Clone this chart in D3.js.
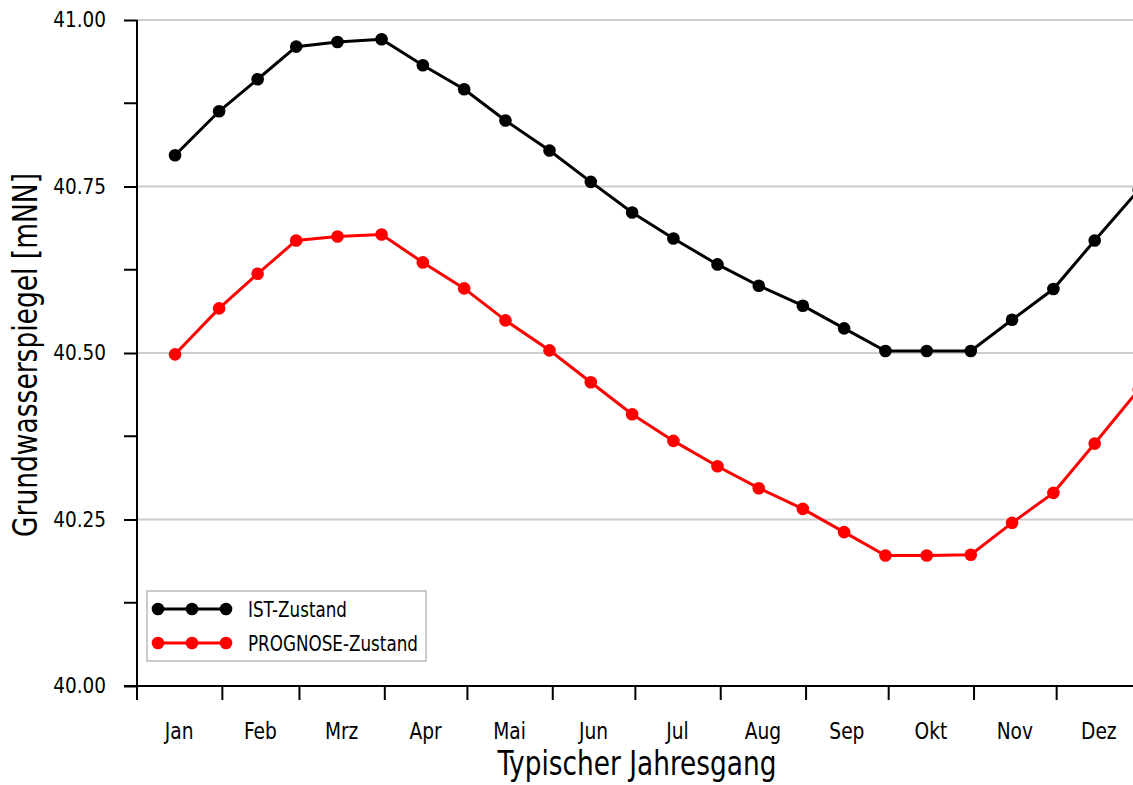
<!DOCTYPE html>
<html>
<head>
<meta charset="utf-8">
<script src="https://cdn.jsdelivr.net/npm/d3@7"></script>
<style>
  html, body { margin: 0; padding: 0; background: #fff; }
  svg { display: block; }
  text { font-family: "DejaVu Sans Condensed", "DejaVu Sans", sans-serif; font-stretch: condensed; fill: #000; }
</style>
</head>
<body>
<svg id="chart" width="1133" height="785"></svg>
<script>
// ---- data ----
const pointDates = ["01-15","01-31","02-14","02-28","03-15","03-31","04-15","04-30","05-15","05-31","06-15","06-30",
                    "07-15","07-31","08-15","08-31","09-15","09-30","10-15","10-31","11-15","11-30","12-15","12-31"];
const istValues = [40.797, 40.863, 40.911, 40.960, 40.967, 40.971, 40.932, 40.896, 40.849, 40.804, 40.757, 40.711,
                   40.672, 40.633, 40.601, 40.571, 40.537, 40.503, 40.503, 40.503, 40.550, 40.596, 40.669, 40.745];
const prognoseValues = [40.498, 40.567, 40.619, 40.669, 40.675, 40.678, 40.636, 40.597, 40.549, 40.504, 40.456, 40.408,
                        40.368, 40.330, 40.297, 40.266, 40.231, 40.196, 40.196, 40.197, 40.245, 40.290, 40.364, 40.445];
const monthLabels = ["Jan","Feb","Mrz","Apr","Mai","Jun","Jul","Aug","Sep","Okt","Nov","Dez"];
const yTickValues = [40.00, 40.25, 40.50, 40.75, 41.00];
const yMinorTickValues = [40.125, 40.375, 40.625, 40.875];
const seriesNames = ["IST-Zustand", "PROGNOSE-Zustand"];
const seriesColors = ["#000000", "#ff0000"];

// ---- scales ----
const year = 2021;
const parseDate = s => new Date(year, +s.slice(0,2) - 1, +s.slice(3,5));
const x = d3.scaleTime().domain([new Date(year,0,1), new Date(year+1,0,1)]).range([136.5, 1141.5]);
const y = d3.scaleLinear().domain([40, 41]).range([686, 20]);

const svg = d3.select("#chart");

// gridlines
svg.append("g").selectAll("line").data(yTickValues.filter(v => v > 40)).join("line")
  .attr("x1", 137).attr("x2", 1141).attr("y1", d => y(d)).attr("y2", d => y(d))
  .attr("stroke", "#cccccc").attr("stroke-width", 2);

// y axis
const yAxis = d3.axisLeft(y).tickValues(yTickValues).tickFormat(d3.format(".2f")).tickSize(13).tickPadding(18);
const gy = svg.append("g").attr("transform", "translate(137,0)").call(yAxis);
gy.attr("font-family", null).attr("font-size", null);
gy.select(".domain").attr("stroke-width", 2).attr("d", `M0,${y(41)}V${y(40)}`);
gy.selectAll(".tick line").attr("stroke-width", 2);
gy.selectAll(".tick text").attr("font-size", 20.5).attr("fill", "#000");
// minor y ticks
svg.append("g").selectAll("line").data(yMinorTickValues).join("line")
  .attr("x1", 124).attr("x2", 137).attr("y1", d => y(d)).attr("y2", d => y(d))
  .attr("stroke", "#000").attr("stroke-width", 2);

// x axis
const monthStarts = d3.range(0, 13).map(m => new Date(year, m, 1));
const xAxis = d3.axisBottom(x).tickValues(monthStarts).tickFormat("").tickSize(14);
const gx = svg.append("g").attr("transform", "translate(0,686)").call(xAxis);
gx.attr("font-family", null).attr("font-size", null);
gx.select(".domain").attr("stroke-width", 2).attr("d", "M124,0H1141");
gx.selectAll(".tick line").attr("stroke-width", 2);
// month labels centred in month
svg.append("g").selectAll("text").data(monthLabels).join("text")
  .attr("transform", (d, i) => `translate(${(x(new Date(year, i, 1)) + x(new Date(year, i + 1, 1))) / 2},739) scale(0.9,1)`)
  .attr("text-anchor", "middle").attr("font-size", 23)
  .text(d => d);

// axis titles
svg.append("text").attr("x", 637).attr("y", 775).attr("text-anchor", "middle").attr("font-size", 34)
  .attr("textLength", 279).attr("lengthAdjust", "spacingAndGlyphs")
  .text("Typischer Jahresgang");
svg.append("text").attr("transform", "translate(37,355) rotate(-90)").attr("text-anchor", "middle").attr("font-size", 33)
  .attr("textLength", 364).attr("lengthAdjust", "spacingAndGlyphs")
  .text("Grundwasserspiegel [mNN]");

// series
const series = [istValues, prognoseValues];
const line = d3.line().x(d => x(d.date)).y(d => y(d.value));
series.forEach((vals, si) => {
  const data = vals.map((v, i) => ({ date: parseDate(pointDates[i]), value: v }));
  svg.append("path").datum(data).attr("d", line).attr("fill", "none")
    .attr("stroke", seriesColors[si]).attr("stroke-width", 3);
  svg.append("g").selectAll("circle").data(data).join("circle")
    .attr("cx", d => x(d.date)).attr("cy", d => y(d.value)).attr("r", 6.3)
    .attr("fill", seriesColors[si]);
});

// legend
const legendTextWidths = [99, 170];
const lg = svg.append("g");
lg.append("rect").attr("x", 147).attr("y", 591).attr("width", 279).attr("height", 70)
  .attr("fill", "#fff").attr("stroke", "#bbbbbb").attr("stroke-width", 1.5);
seriesNames.forEach((name, i) => {
  const ly = 609 + i * 34;
  lg.append("line").attr("x1", 158).attr("x2", 226).attr("y1", ly).attr("y2", ly)
    .attr("stroke", seriesColors[i]).attr("stroke-width", 3);
  [158, 192, 226].forEach(cx => lg.append("circle").attr("cx", cx).attr("cy", ly).attr("r", 6.3).attr("fill", seriesColors[i]));
  lg.append("text").attr("x", 248).attr("y", ly + 7.5).attr("font-size", 21)
    .attr("textLength", legendTextWidths[i]).attr("lengthAdjust", "spacingAndGlyphs").text(name);
});
</script>
</body>
</html>
